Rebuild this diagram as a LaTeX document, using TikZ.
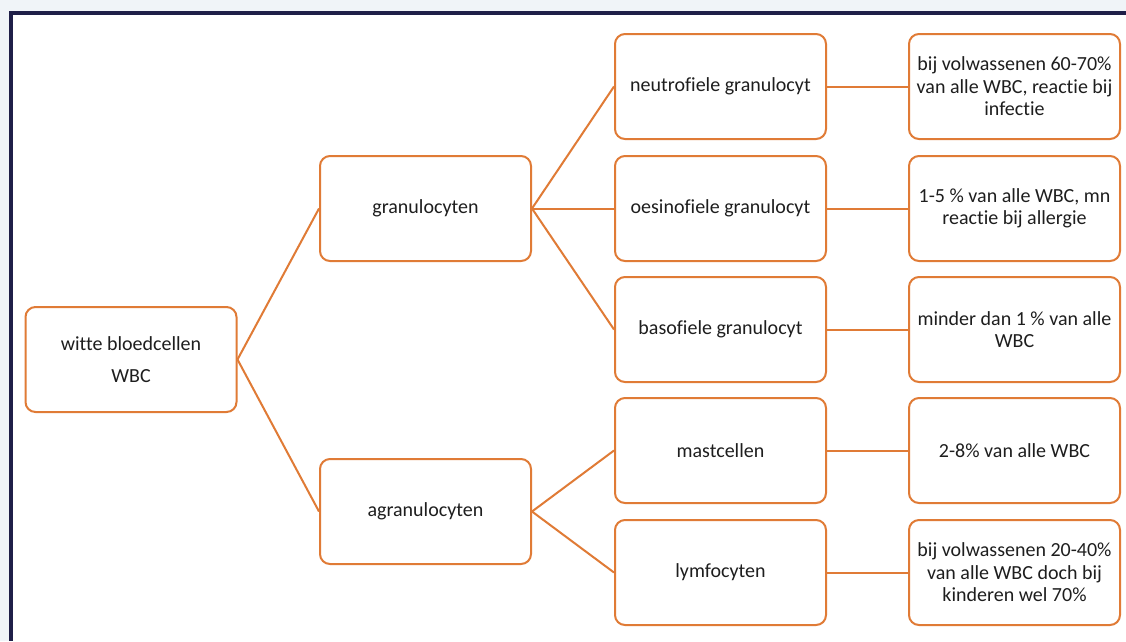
\documentclass[tikz,border=0pt]{standalone}
\usepackage{fontspec}
\setmainfont[Ligatures=NoCommon]{Carlito}
\definecolor{orng}{HTML}{E07B36}
\definecolor{navy}{HTML}{1F1F48}
\definecolor{bgc}{HTML}{F0F4F8}
\definecolor{txt}{HTML}{1E1E1E}
\begin{document}
\begin{tikzpicture}[x=1pt,y=-1pt,
  box/.style={draw=orng, line width=2pt, rounded corners=10pt, fill=white,
    minimum width=211pt, minimum height=105pt, inner sep=0pt, align=center,
    text=txt, font=\fontsize{20}{22.5}\selectfont},
  conn/.style={draw=orng, line width=2pt}]
\useasboundingbox (0,0) rectangle (1126,641);
\fill[bgc] (0,0) rectangle (1126,641);
\fill[white] (11,13) rectangle (1126,641);
\fill[navy] (9,11) rectangle (1126,14.5);
\fill[navy] (9,11) rectangle (13,641);

\node[box] (wbc) at (131,359.5) {witte bloedcellen\\[10pt]WBC};
\node[box] (gran) at (425.5,208.5) {granulocyten};
\node[box] (agran) at (425.5,511.5) {agranulocyten};

\node[box] (neu) at (720.5,86.5) {neutrofiele granulocyt};
\node[box] (oes) at (720.5,208.5) {oesinofiele granulocyt};
\node[box] (bas) at (720.5,329.5) {basofiele granulocyt};
\node[box] (mas) at (720.5,450.5) {mastcellen};
\node[box] (lym) at (720.5,572.5) {lymfocyten};

\node[box] (neuD) at (1014.5,86.5) {bij volwassenen 60-70\%\\van alle WBC, reactie bij\\infectie};
\node[box] (oesD) at (1014.5,208.5) {1-5 \% van alle WBC, mn\\reactie bij allergie};
\node[box] (basD) at (1014.5,329.5) {minder dan 1 \% van alle\\WBC};
\node[box] (masD) at (1014.5,450.5) {2-8\% van alle WBC};
\node[box] (lymD) at (1014.5,572.5) {bij volwassenen 20-40\%\\van alle WBC doch bij\\kinderen wel 70\%};

\draw[conn] (wbc.east) -- (gran.west);
\draw[conn] (wbc.east) -- (agran.west);
\draw[conn] (gran.east) -- (neu.west);
\draw[conn] (gran.east) -- (oes.west);
\draw[conn] (gran.east) -- (bas.west);
\draw[conn] (agran.east) -- (mas.west);
\draw[conn] (agran.east) -- (lym.west);
\draw[conn] (neu.east) -- (neuD.west);
\draw[conn] (oes.east) -- (oesD.west);
\draw[conn] (bas.east) -- (basD.west);
\draw[conn] (mas.east) -- (masD.west);
\draw[conn] (lym.east) -- (lymD.west);
\end{tikzpicture}
\end{document}
